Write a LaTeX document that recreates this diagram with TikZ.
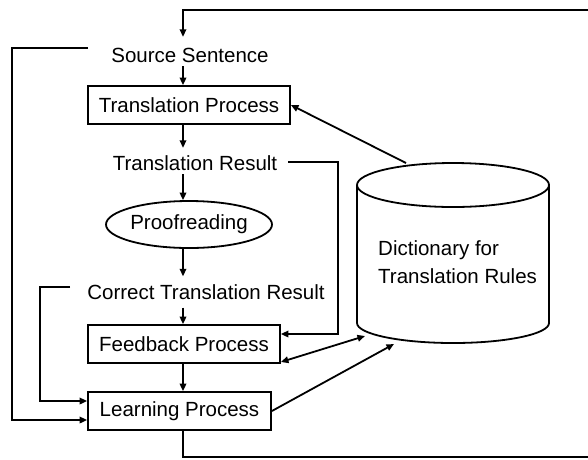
\documentclass[tikz,border=0pt]{standalone}
\usepackage{fontspec}
\setmainfont{Liberation Sans}
\usetikzlibrary{arrows.meta,shapes.geometric}

\tikzset{
  txt/.style={font=\fontsize{20.5pt}{28pt}\selectfont},
  lbl/.style={txt, inner sep=0pt, text height=15pt, text depth=4pt},
  procbox/.style={txt, draw, line width=1.8pt, inner sep=0pt, minimum height=38pt},
  oval/.style={txt, draw, ellipse, line width=1.8pt, inner sep=0pt},
  arr/.style={line width=1.8pt, -{Triangle[length=7.5pt,width=6.5pt]}},
  dblarr/.style={line width=1.8pt, {Triangle[length=7.5pt,width=6.5pt]}-{Triangle[length=7.5pt,width=6.5pt]}},
  ln/.style={line width=1.8pt}
}

\begin{document}
\begin{tikzpicture}[x=1pt,y=-1pt]
\useasboundingbox (0,0) rectangle (588,459);

% helper coordinates for the vertical spine and the side rails
\coordinate (spine) at (183,0);
\coordinate (outerX) at (12,0);
\coordinate (innerX) at (40,0);
\coordinate (rightX) at (338,0);
\coordinate (topR) at (592,10);
\coordinate (botR) at (592,457);
\coordinate (srcL) at (88,48);
\coordinate (ctrL) at (70,287);
\coordinate (trR) at (288,162);

% main flow
\node[lbl] (src) at (190,56.5) {Source Sentence};
\node[procbox, minimum width=202pt] (tp) at (189,105) {Translation Process};
\node[lbl] (tr) at (195,164.5) {Translation Result};
\node[oval, minimum width=164pt, minimum height=47pt] (pr) at (189,224.5) {Proofreading};
\node[lbl] (ctr) at (206,294) {Correct Translation Result};
\node[procbox, minimum width=192pt] (fp) at (184,344) {Feedback Process};
\node[procbox, minimum width=183pt] (lp) at (179.5,411) {Learning Process};

% dictionary cylinder
\draw[ln] (357,185) -- (357,323)
  arc[start angle=180, end angle=360, x radius=96pt, y radius=20pt]
  -- (549,185);
\draw[ln] (453,185) ellipse [x radius=96pt, y radius=22pt];
\node[txt, anchor=west, align=left, inner sep=0pt] (dict) at (378,262)
  {Dictionary for\\Translation Rules};
\coordinate (dictT) at (406,163);
\coordinate (dictA) at (365,336);
\coordinate (dictB) at (394,344);

% vertical arrows
\draw[arr] (topR) -- (topR -| spine) -- ([yshift=10pt]src.north -| spine);
\draw[arr] (src.south -| spine) -- (tp.north -| spine);
\draw[arr] (tp.south -| spine) -- ([yshift=7pt]tr.north -| spine);
\draw[arr] (tr.south -| spine) -- (pr.north -| spine);
\draw[arr] (pr.south -| spine) -- ([yshift=8pt]ctr.north -| spine);
\draw[arr] ([yshift=-4pt]ctr.south -| spine) -- (fp.north -| spine);
\draw[arr] (fp.south -| spine) -- (lp.north -| spine);
\draw[ln] (lp.south -| spine) |- (botR);

% side rails
\draw[arr] (srcL) -- (srcL -| outerX) |- ([yshift=-9pt]lp.west);
\draw[arr] (ctrL) -- (ctrL -| innerX) |- ([yshift=10pt]lp.west);
\draw[arr] (trR) -- (trR -| rightX) |- ([yshift=10pt]fp.east);

% links with the dictionary
\draw[arr] (dictT) -- (tp.east);
\draw[dblarr] ([yshift=-18pt]fp.east) -- (dictA);
\draw[arr] (lp.east) -- (dictB);
\end{tikzpicture}
\end{document}
